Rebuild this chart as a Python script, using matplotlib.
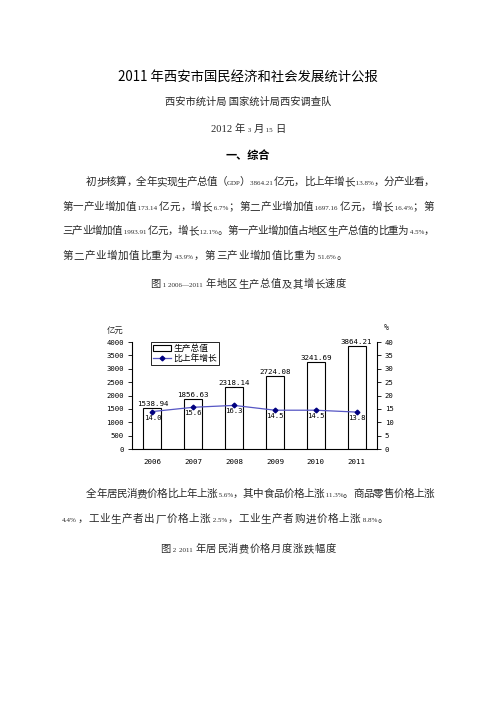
import re
import numpy as np
import matplotlib

matplotlib.use("Agg")
import matplotlib.pyplot as plt
from matplotlib.patches import Patch

W, H = 496, 702
CJK = ["Noto Sans CJK SC", "DejaVu Sans"]
NUMF = ["Liberation Serif", "DejaVu Serif"]
MONO = ["DejaVu Sans Mono"]

# chart data
years = ["2006", "2007", "2008", "2009", "2010", "2011"]
gdp = [1538.94, 1856.63, 2318.14, 2724.08, 3241.69, 3864.21]
growth = [14.0, 15.6, 16.3, 14.5, 14.5, 13.8]
left_ticks = [0, 500, 1000, 1500, 2000, 2500, 3000, 3500, 4000]
right_ticks = [0, 5, 10, 15, 20, 25, 30, 35, 40]

para1 = [
    "初步核算，全年实现生产总值（GDP）3864.21 亿元，比上年增长 13.8%，分产业看，",
    "第一产业增加值 173.14 亿元，增长 6.7%；第二产业增加值 1697.16 亿元，增长 16.4%；第",
    "三产业增加值 1993.91 亿元，增长 12.1%。第一产业增加值占地区生产总值的比重为 4.5%，",
    "第二产业增加值比重为 43.9%，第三产业增加值比重为 51.6%。",
]
para2 = [
    "全年居民消费价格比上年上涨 5.6%，其中食品价格上涨 11.3%。商品零售价格上涨",
    "4.4%，工业生产者出厂价格上涨 2.5%，工业生产者购进价格上涨 8.8%。",
]

fig = plt.figure(figsize=(W / 100, H / 100), dpi=100)
fig.patch.set_facecolor("white")
renderer = fig.canvas.get_renderer()

TXT = "#2a2a2a"
NUM_RE = r"\s*[0-9A-Za-z.%—]+\s*|\S"


def fy(y):
    return 1 - y / H


def put_line(y, x0, x1, s, justify=True, cjk_fs=7.6, num_fs=5.0, big_nums=()):
    toks = re.findall(NUM_RE, s)
    arts = []
    for t in toks:
        if re.match(r"\s*[0-9A-Za-z.%—]", t):
            fs = 7.6 if t.strip() in big_nums else num_fs
            a = fig.text(0, fy(y), t, fontsize=fs, family=NUMF, va="baseline", color=TXT)
        else:
            a = fig.text(0, fy(y), t, fontsize=cjk_fs, family=CJK, va="baseline", color=TXT)
        arts.append(a)
    widths = [a.get_window_extent(renderer).width for a in arts]
    if justify and len(arts) > 1:
        gap = (x1 - x0 - sum(widths)) / (len(arts) - 1)
    else:
        gap = 0.6
    x = x0
    for a, w in zip(arts, widths):
        a.set_x(x / W)
        x += w + gap
    return arts, x - gap


def put_center(y, cx, s, **kw):
    arts, x_end = put_line(y, 0, None, s, justify=False, **kw)
    shift = cx - x_end / 2
    for a in arts:
        a.set_x(a.get_position()[0] + shift / W)


# heading block
fig.text(248 / W, fy(77), "2011 年西安市国民经济和社会发展统计公报", fontsize=9.6,
         family=CJK, ha="center", va="center", color="black", weight="medium")
fig.text(248 / W, fy(102), "西安市统计局 国家统计局西安调查队", fontsize=7.4,
         family=CJK, ha="center", va="center", color=TXT)
put_center(132, 248, "2012 年 3 月 15 日", cjk_fs=7.4, big_nums=("2012",))
fig.text(248 / W, fy(155), "一、综合", fontsize=8, family=CJK, ha="center",
         va="center", color="black", weight="bold")

LM, IND, RM = 62, 86, 434
ys1 = [185, 210, 234, 259]
for i, (s, y) in enumerate(zip(para1, ys1)):
    put_line(y, IND if i == 0 else LM, RM, s, justify=(i < len(para1) - 1))

put_center(287, 248, "图 1 2006—2011 年地区生产总值及其增长速度", cjk_fs=7.4)

ys2 = [497, 522]
for i, (s, y) in enumerate(zip(para2, ys2)):
    put_line(y, IND if i == 0 else LM, RM, s, justify=(i < len(para2) - 1))

put_center(552, 248, "图 2 2011 年居民消费价格月度涨跌幅度", cjk_fs=7.4)

# chart
ax = fig.add_axes([132 / W, fy(449), 245 / W, 107 / H])
x = np.arange(len(years))
ax.bar(x, gdp, width=0.44, color="white", edgecolor="black", linewidth=0.8, zorder=2)
ax.set_xlim(-0.5, len(years) - 0.5)
ax.set_ylim(0, 4000)
ax.set_yticks(left_ticks)
ax.set_xticks(x)
ax.set_xticklabels(years, family=MONO, fontsize=5.4)
ax.tick_params(axis="x", length=0, pad=7)
ax.tick_params(axis="y", length=3, width=0.6, pad=3, labelsize=5.2)
for lab in ax.get_yticklabels():
    lab.set_family(MONO)
for sp in ["top", "right"]:
    ax.spines[sp].set_visible(False)
for sp in ["left", "bottom"]:
    ax.spines[sp].set_linewidth(0.8)

for xi, v in zip(x, gdp):
    ax.annotate(f"{v:.2f}", (xi, v), xytext=(0, 0.8), textcoords="offset points",
                ha="center", va="bottom", fontsize=5.4, family=MONO)

ax2 = ax.twinx()
ax2.set_ylim(0, 40)
ax2.set_yticks(right_ticks)
ax2.tick_params(axis="y", length=3, width=0.6, pad=2.5, labelsize=5.2)
for lab in ax2.get_yticklabels():
    lab.set_family(MONO)
for sp in ["top", "left", "bottom"]:
    ax2.spines[sp].set_visible(False)
ax2.spines["right"].set_linewidth(0.8)
(ln,) = ax2.plot(x, growth, color="#5656c4", lw=0.9, marker="D", ms=2.4,
                 mfc="#000080", mec="#000080")
for xi, g in zip(x, growth):
    ax2.annotate(f"{g:.1f}", (xi, g), xytext=(0, -2.2), textcoords="offset points",
                 ha="center", va="top", fontsize=5.2, family=MONO)

leg = ax2.legend([Patch(facecolor="white", edgecolor="black", linewidth=0.8), ln],
                 ["生产总值", "比上年增长"], loc="upper left", bbox_to_anchor=(0.077, 1.0),
                 borderaxespad=0, prop={"family": CJK, "size": 6.3}, fancybox=False,
                 framealpha=1, edgecolor="black", borderpad=0.25, labelspacing=0.1,
                 handlelength=2.0, handleheight=0.6, handletextpad=0.3)
leg.get_frame().set_linewidth(0.6)

fig.text(107 / W, fy(330), "亿元", fontsize=6, family=CJK, va="center", color=TXT)
fig.text(384 / W, fy(327), "%", fontsize=6, family=MONO, va="center", color=TXT)

fig.savefig("out.png", dpi=100, facecolor="white")
